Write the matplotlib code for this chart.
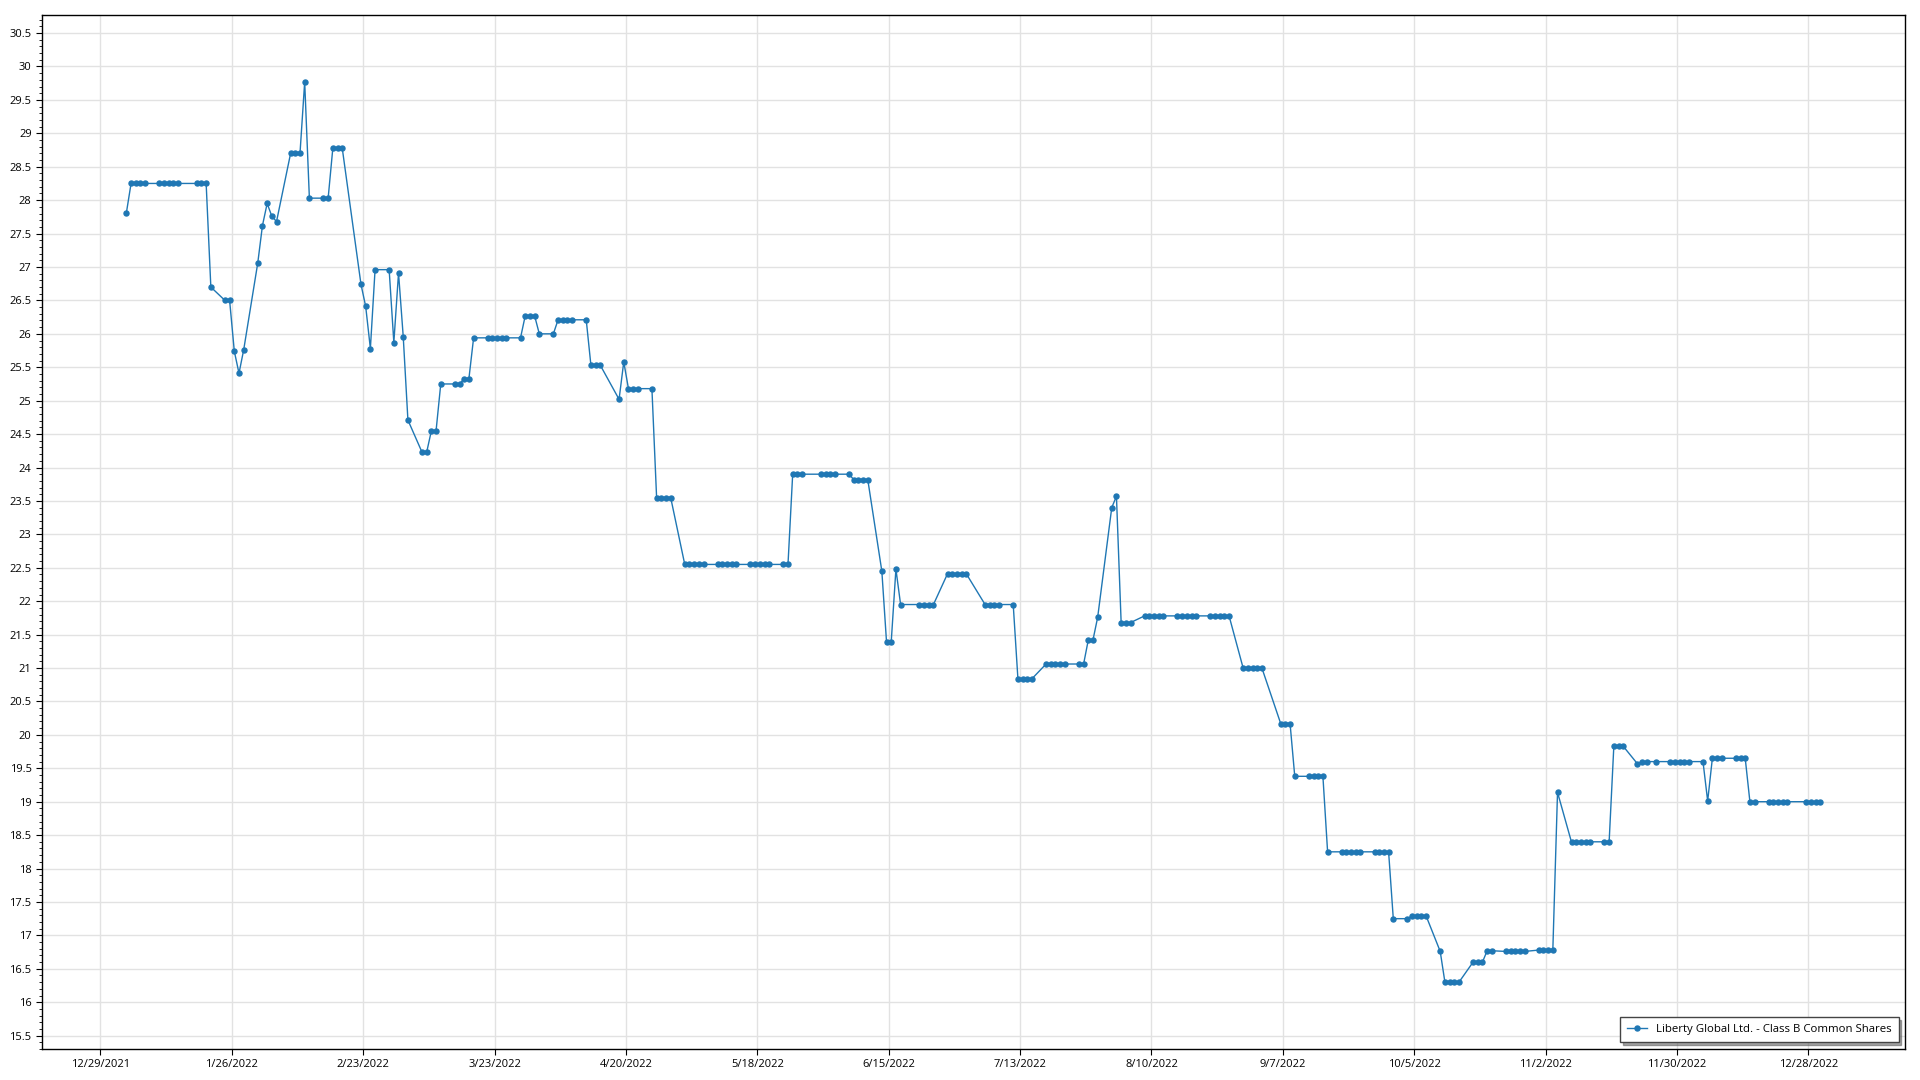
import matplotlib
matplotlib.use("Agg")
import matplotlib.pyplot as plt
from matplotlib.ticker import MultipleLocator, FuncFormatter
import pandas as pd

# NYSE closures in 2022 (weekdays only)
holidays = ["2022-01-17", "2022-02-21", "2022-04-15", "2022-05-30", "2022-06-20",
            "2022-07-04", "2022-09-05", "2022-11-24", "2022-12-26"]

# closing prices, one per trading day
jan = [27.81, 28.25, 28.25, 28.25, 28.25,
       28.25, 28.25, 28.25, 28.25, 28.25,
       28.25, 28.25, 28.25, 26.70,
       26.50, 26.50, 25.74, 25.41, 25.76,
       27.06]
feb = [27.62, 27.95, 27.76, 27.68,
       28.70, 28.70, 28.70, 29.77, 28.03,
       28.03, 28.03, 28.78, 28.78, 28.78,
       26.74, 26.41, 25.78, 26.96,
       26.96]
mar = [25.87, 26.91, 25.96, 24.71,
       24.23, 24.23, 24.55, 24.55, 25.25,
       25.25, 25.25, 25.33, 25.33, 25.94,
       25.94, 25.94, 25.94, 25.94, 25.94,
       25.94, 26.27, 26.27, 26.27]
apr = [26.00,
       26.00, 26.21, 26.21, 26.21, 26.21,
       26.21, 25.53, 25.53, 25.53,
       25.02, 25.58, 25.18, 25.18, 25.18,
       25.18, 23.55, 23.55, 23.55, 23.55]
may = [22.55, 22.55, 22.55, 22.55, 22.55,
       22.55, 22.55, 22.55, 22.55, 22.55,
       22.55, 22.55, 22.55, 22.55, 22.55,
       22.55, 22.55, 23.90, 23.90, 23.90,
       23.90]
jun = [23.90, 23.90, 23.90,
       23.90, 23.82, 23.82, 23.82, 23.82,
       22.45, 21.39, 21.39, 22.48, 21.95,
       21.95, 21.95, 21.95, 21.95,
       22.41, 22.41, 22.41, 22.41]
jul = [22.41,
       21.95, 21.95, 21.95, 21.95,
       21.95, 20.84, 20.84, 20.84, 20.84,
       21.06, 21.06, 21.06, 21.06, 21.06,
       21.06, 21.06, 21.42, 21.42, 21.76]
aug = [23.40, 23.57, 21.68, 21.68, 21.68,
       21.78, 21.78, 21.78, 21.78, 21.78,
       21.78, 21.78, 21.78, 21.78, 21.78,
       21.78, 21.78, 21.78, 21.78, 21.78,
       21.00, 21.00, 21.00]
sep = [21.00, 21.00,
       20.17, 20.17, 20.17, 19.38,
       19.38, 19.38, 19.38, 19.38, 18.25,
       18.25, 18.25, 18.25, 18.25, 18.25,
       18.25, 18.25, 18.25, 18.25, 17.25]
oct_ = [17.25, 17.29, 17.29, 17.29, 17.29,
        16.76, 16.30, 16.30, 16.30, 16.30,
        16.60, 16.60, 16.60, 16.77, 16.77,
        16.76, 16.76, 16.76, 16.76, 16.76,
        16.78]
nov = [16.78, 16.78, 16.78, 19.14,
       18.39, 18.39, 18.40, 18.40, 18.40,
       18.40, 18.40, 19.83, 19.83, 19.83,
       19.57, 19.60, 19.60, 19.60,
       19.60, 19.60, 19.60]
dec = [19.60, 19.60,
       19.60, 19.01, 19.65, 19.65, 19.65,
       19.65, 19.65, 19.65, 19.00, 19.00,
       19.00, 19.00, 19.00, 19.00, 19.00,
       19.00, 19.00, 19.00, 19.00]

series_label = "Liberty Global Ltd. - Class B Common Shares"

days = pd.bdate_range("2022-01-03", "2022-12-30")
days = days[~days.isin(pd.to_datetime(holidays))]
prices = jan + feb + mar + apr + may + jun + jul + aug + sep + oct_ + nov + dec
# points sit a little after midnight on the reference axis
dates = days + pd.Timedelta(hours=13)

plt.rcParams['font.family'] = ['Open Sans', 'DejaVu Sans']

fig = plt.figure(figsize=(19.2, 10.8), dpi=100)
ax = fig.add_axes([0.0219, 0.0287, 0.9703, 0.9574])

ax.plot(dates, prices, color='#1f77b4', linewidth=1.0, marker='o',
        markersize=3.6, label=series_label)

ax.set_ylim(15.30, 30.77)
ax.yaxis.set_major_locator(MultipleLocator(0.5))
ax.yaxis.set_minor_locator(MultipleLocator(0.1))
ax.yaxis.set_major_formatter(FuncFormatter(lambda v, p: "%g" % round(v, 1)))

first_tick = pd.Timestamp("2021-12-29")
xticks = [first_tick + pd.Timedelta(days=28 * i) for i in range(14)]
ax.set_xticks(xticks)
ax.set_xticklabels([f"{t.month}/{t.day}/{t.year}" for t in xticks])
ax.set_xlim(pd.Timestamp("2021-12-16 13:40"), pd.Timestamp("2023-01-17 14:24"))

ax.grid(True, color='#e2e2e2', linewidth=1.0)
ax.set_axisbelow(True)
ax.tick_params(axis='both', which='major', labelsize=8, length=4, color='black')
ax.tick_params(axis='y', which='minor', length=2)
for s in ax.spines.values():
    s.set_color('black')
    s.set_linewidth(1.0)

leg = ax.legend(loc='lower right', fontsize=8.2, fancybox=False, shadow=True,
                framealpha=1, edgecolor='#444444', borderpad=0.6,
                handlelength=1.8, borderaxespad=0, bbox_to_anchor=(0.9966, 0.0068))

fig.savefig("out.png", dpi=100)
